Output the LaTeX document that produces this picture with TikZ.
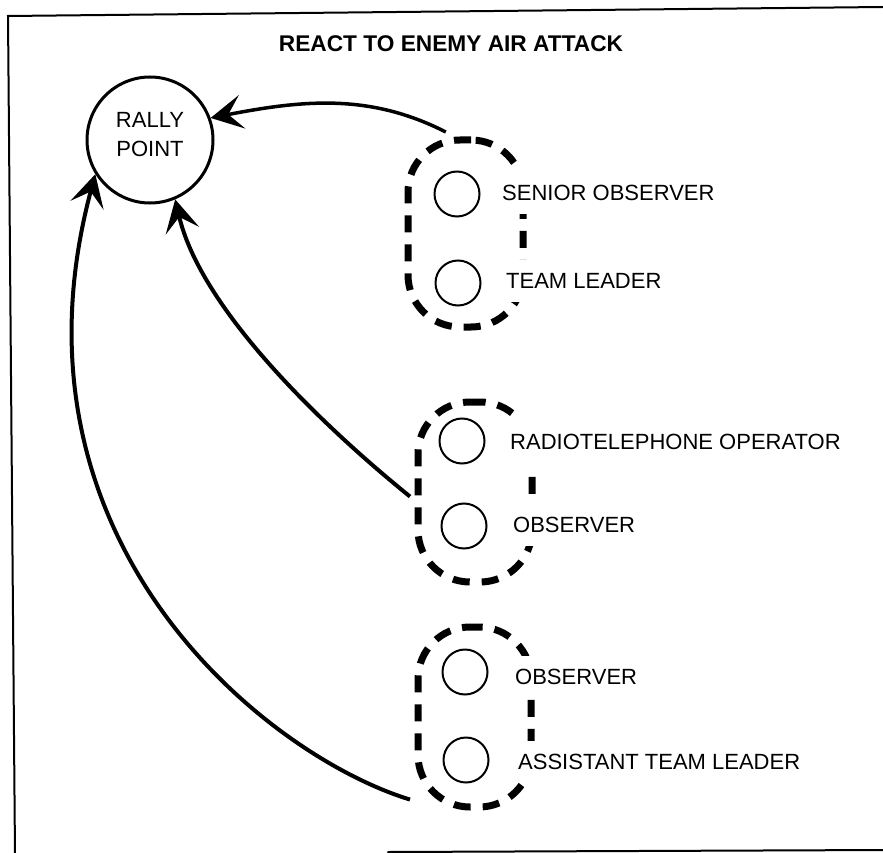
\documentclass[tikz,border=0pt]{standalone}
\usepackage{fontspec}
\setmainfont{Liberation Sans}
\usetikzlibrary{arrows.meta}
\begin{document}
\begin{tikzpicture}[x=1pt,y=1pt,
  frameline/.style={line width=2pt, line cap=round},
  rallybox/.style={circle, draw, line width=3pt, minimum size=126pt, inner sep=0pt,
    align=center, text depth=12pt, font=\fontsize{22}{29}\selectfont},
  member/.style={circle, draw, line width=2pt, minimum size=45pt, inner sep=0pt},
  grp/.style={draw, rectangle, rounded corners=52pt, line width=7pt,
    dash pattern=on 17pt off 12pt, outer sep=8pt, inner sep=0pt},
  lbl/.style={anchor=west, fill=white, inner xsep=2pt, inner ysep=13pt,
    font=\fontsize{22}{26}\selectfont},
  ttl/.style={inner sep=0pt, font=\fontsize{22.7}{27}\selectfont\bfseries},
  move/.style={draw, line width=4pt,
    -{Stealth[length=32pt, width=34pt, inset=14pt]}}
]
\useasboundingbox (0,0) rectangle (883,-853);

% frame
\draw[frameline] (883,-7) -- (8,-16) -- (15,-855);
\draw[frameline] (388,-852) -- (885,-850);

% title
\node[ttl] (title) at (451,-44) {REACT TO ENEMY AIR ATTACK};

% rally point
\node[rallybox] (rally) at (150,-140) {RALLY\\POINT};

% groups (dashed outlines)
\node[grp, minimum width=115pt, minimum height=187pt] (g1) at (465.5,-233.5) {};
\node[grp, minimum width=114pt, minimum height=180pt] (g2) at (475,-492) {};
\node[grp, minimum width=113pt, minimum height=180pt] (g3) at (474.5,-717) {};

% members
\node[member] (so)  at (457,-194) {};
\node[member] (tl)  at (458,-283) {};
\node[member] (rto) at (462,-441) {};
\node[member] (ob1) at (464,-526) {};
\node[member] (ob2) at (465,-672) {};
\node[member] (atl) at (466,-760) {};

% labels
\node[lbl] (so-l)  at (500,-193) {SENIOR OBSERVER};
\node[lbl] (tl-l)  at (504,-281) {TEAM LEADER};
\node[lbl, inner ysep=16pt] (rto-l) at (508,-442) {RADIOTELEPHONE OPERATOR};
\node[lbl] (ob1-l) at (511,-525) {OBSERVER};
\node[lbl] (ob2-l) at (513,-677) {OBSERVER};
\node[lbl] (atl-l) at (516,-762) {ASSISTANT TEAM LEADER};

% movement arrows
\draw[move, line width=3.5pt] (g1.101) .. controls +(153:85) and +(11:95) .. (rally.20);
\draw[move] (g2.184) .. controls +(141:120) and +(-77:110) .. (rally.-67);
\draw[move] (g3.232) .. controls +(163:150) and +(255:380) .. (rally.212);
\end{tikzpicture}
\end{document}
